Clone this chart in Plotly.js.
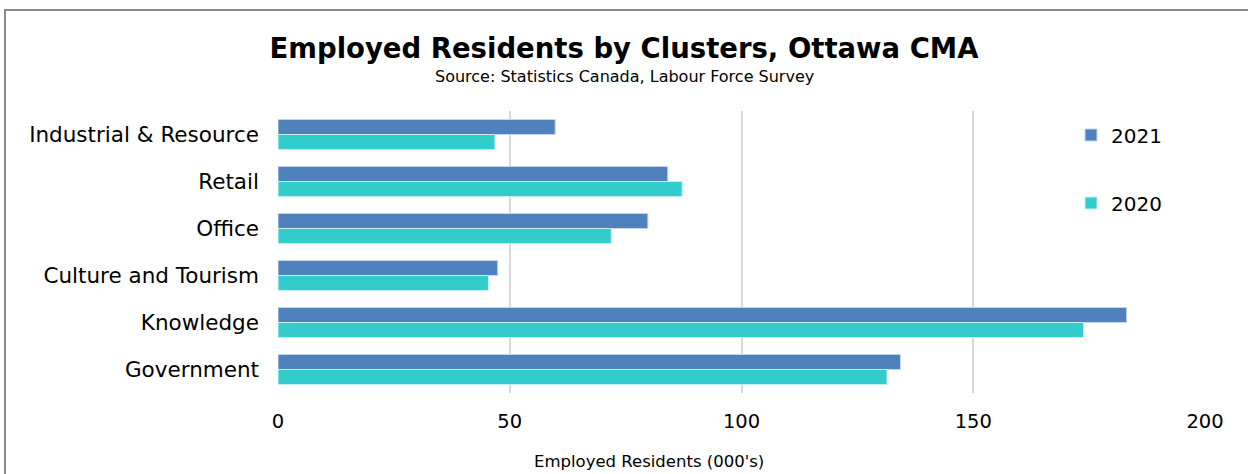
<!DOCTYPE html>
<html>
<head>
<meta charset="utf-8">
<script src="https://cdn.plot.ly/plotly-3.0.1.min.js"></script>
<style>
  html, body { margin: 0; padding: 0; background: #fff; overflow: hidden; }
  #frame { position: absolute; left: 4px; top: 9px; width: 1400px; height: 600px; border: 2px solid #8a8a8a; box-sizing: border-box; pointer-events: none; z-index: 5; }
  #chart { position: absolute; left: 0; top: 0; width: 1248px; height: 474px; }
</style>
</head>
<body>
<div id="chart"></div>
<div id="frame"></div>
<script>
const categories = ["Industrial & Resource", "Retail", "Office", "Culture and Tourism", "Knowledge", "Government"];
const values2021 = [59.8, 84.1, 79.8, 47.4, 183.1, 134.3];
const values2020 = [46.8, 87.2, 71.9, 45.4, 173.8, 131.4];
const xTicks = [0, 50, 100, 150, 200];

const FONT = "DejaVu Sans, Verdana, sans-serif";

const traces = [
  { type: "bar", orientation: "h", name: "2021", y: categories, x: values2021,
    marker: { color: "#4F81BD", line: { color: "#c9d6ea", width: 1 } },
    legendgroup: "a", hoverinfo: "x+name" },
  { type: "bar", orientation: "h", name: "2020", y: categories, x: values2020,
    marker: { color: "#33CCCC", line: { color: "#c6efef", width: 1 } },
    legendgroup: "b", hoverinfo: "x+name" }
];

const layout = {
  width: 1248, height: 474,
  margin: { l: 278, r: 43, t: 111, b: 81, autoexpand: false },
  paper_bgcolor: "#ffffff", plot_bgcolor: "#ffffff",
  font: { family: FONT, color: "#000" },
  barmode: "group", bargap: 0.36, bargroupgap: 0,
  title: { text: "<b>Employed Residents by Clusters, Ottawa CMA</b>",
           font: { family: FONT, size: 27.5, color: "#000" },
           xref: "container", x: 0.5, xanchor: "center",
           yref: "container", y: 1 - 48 / 474, yanchor: "middle" },
  annotations: [
    { text: "Source: Statistics Canada, Labour Force Survey",
      xref: "paper", yref: "paper", x: (624 - 278) / 927, y: (393 - 76) / 282,
      xanchor: "center", yanchor: "middle", showarrow: false,
      font: { family: FONT, size: 16, color: "#000" } },
    { text: "Employed Residents (000's)",
      xref: "paper", yref: "paper", x: (649 - 278) / 927, y: (393 - 461) / 282,
      xanchor: "center", yanchor: "middle", showarrow: false,
      font: { family: FONT, size: 16.5, color: "#000" } }
  ],
  xaxis: { range: [0, 200], tickvals: xTicks, ticktext: xTicks.map(String), automargin: false,
           showgrid: true, gridcolor: "#d9d9d9", gridwidth: 2,
           zeroline: false, showline: false, ticks: "",
           tickfont: { family: FONT, size: 19.5, color: "#000" }, ticklabelstandoff: 14 },
  yaxis: { type: "category", categoryorder: "array", categoryarray: categories, automargin: false,
           autorange: "reversed", showgrid: false, zeroline: false, showline: false, ticks: "",
           tickfont: { family: FONT, size: 21.5, color: "#000" }, ticklabelstandoff: 18 },
  showlegend: true,
  legend: { xref: "container", yref: "container", x: 1071 / 1248, y: 1 - 115.5 / 474,
            xanchor: "left", yanchor: "top", traceorder: "grouped", tracegroupgap: 39,
            bgcolor: "rgba(0,0,0,0)", font: { family: FONT, size: 20, color: "#000" } }
};

Plotly.newPlot("chart", traces, layout, { displayModeBar: false, staticPlot: true });
</script>
</body>
</html>
